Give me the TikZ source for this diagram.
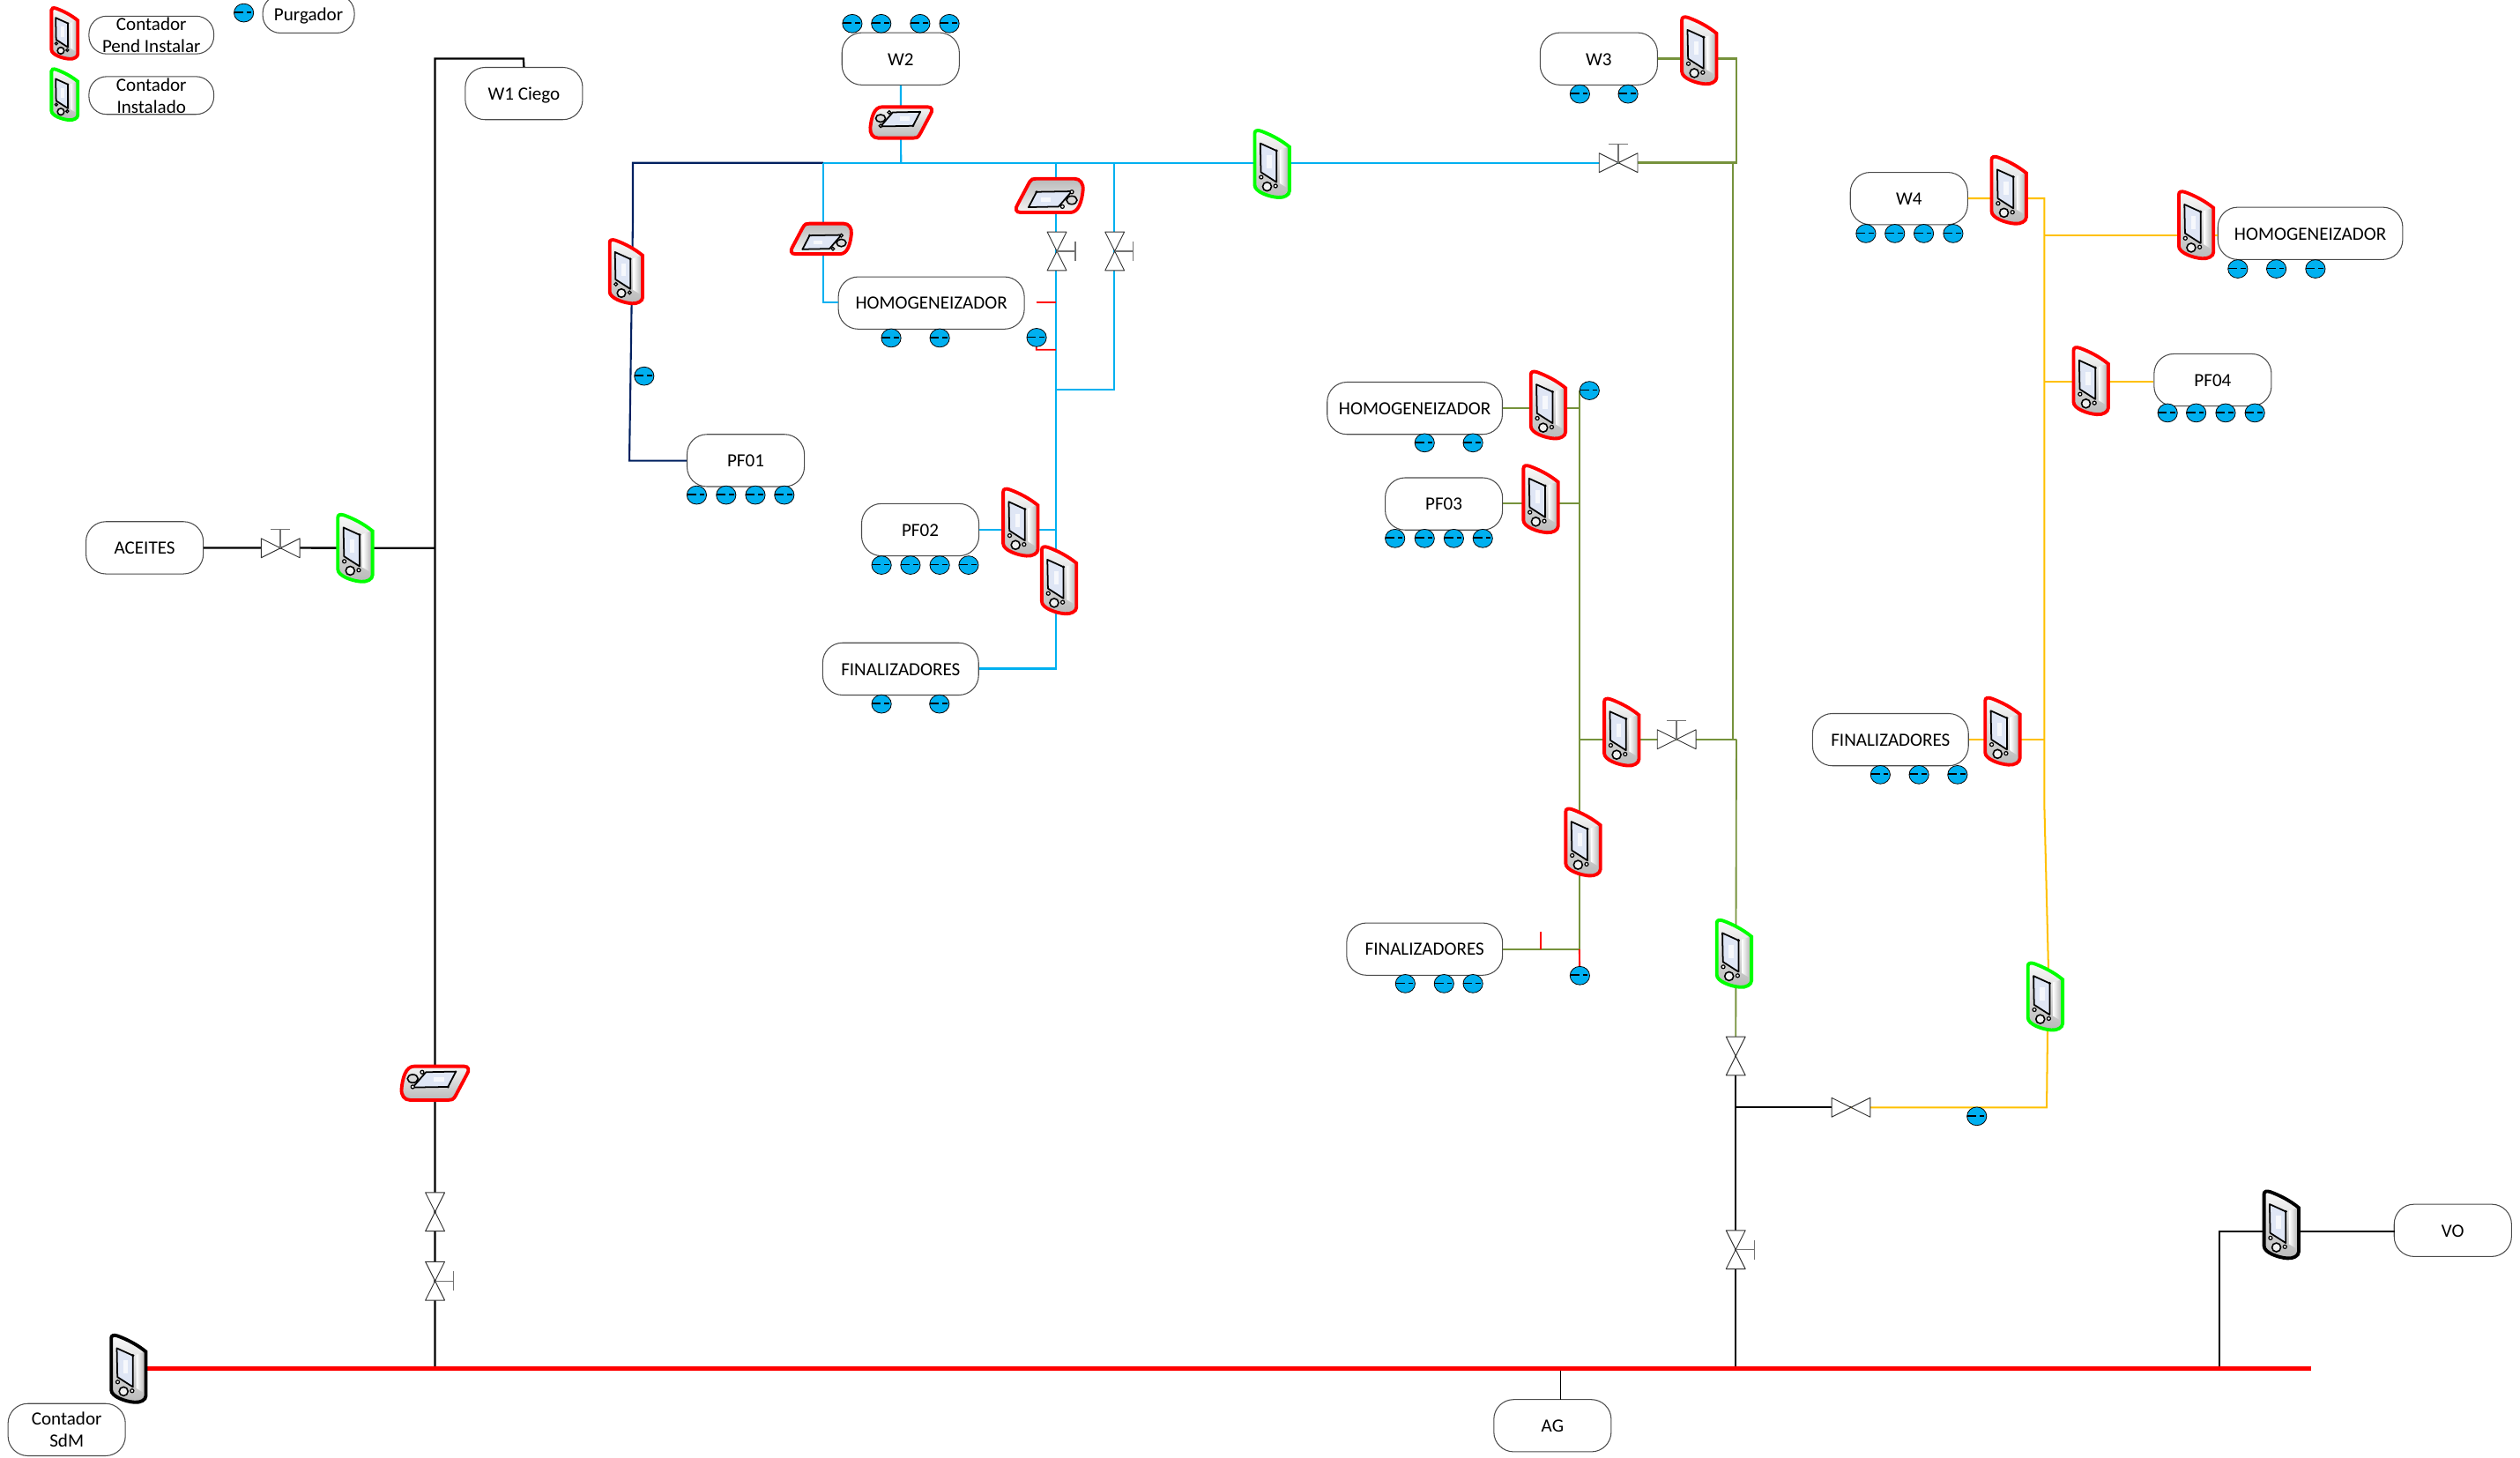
\documentclass[tikz,border=0pt]{standalone}
\usepackage{fontspec}
\setmainfont{Carlito}
\definecolor{pcyan}{HTML}{00B0F0}
\definecolor{pnavy}{HTML}{002060}
\definecolor{polive}{HTML}{76923C}
\definecolor{pyellow}{HTML}{FFC000}
\definecolor{pgreen}{HTML}{00FF00}
\definecolor{ppurg}{HTML}{00B0F0}
\definecolor{scr}{HTML}{DFE6F5}
\def\uu{0.036467cm}
\newcommand{\twol}[2]{\raisebox{-0.2pt}[0pt][0pt]{\begin{tabular}[c]{@{}c@{}}#1\\#2\end{tabular}}}
% vertical meter: coordinate name, outline colour, scale
\newcommand{\vmeter}[3]{%
\begin{scope}[shift={(#1)},scale=0.18282*#3]
\path[top color=gray!4,bottom color=gray!55,middle color=gray!30]
 (-59,-104) .. controls (-59,-114) and (-50,-116) .. (-38,-112) .. controls (-5,-100) and (30,-82) .. (59,-58) -- (59,92) .. controls (59,106) and (40,116) .. (20,114) .. controls (-10,112) and (-59,95) .. (-59,72) -- cycle;
\path[left color=white,right color=gray!60] (26,-48) -- (56,-58) -- (56,84) -- (26,66) -- cycle;
\draw[black,line width=1pt,fill=scr,line join=round] (-40,-70) -- (15,-45) -- (15,62) -- (-38,28) -- cycle;
\fill[white,opacity=.75] (-18,-30) rectangle (-2,15);
\fill[black] (15,-45) circle[radius=5];
\draw[black,line width=.7pt,fill=white] (-37,45) circle[radius=6];
\draw[black,line width=.7pt,fill=white] (12,75) circle[radius=6];
\draw[black,line width=.9pt,fill=gray!12] (-17,77) circle[radius=15];
\draw[#2,line width=2.2pt]
 (-59,-104) .. controls (-59,-114) and (-50,-116) .. (-38,-112) .. controls (-5,-100) and (30,-82) .. (59,-58) -- (59,92) .. controls (59,106) and (40,116) .. (20,114) .. controls (-10,112) and (-59,95) .. (-59,72) -- cycle;
\end{scope}}
% horizontal meter: coordinate name, outline colour, rotation, scale
\newcommand{\hmeter}[4]{%
\begin{scope}[shift={(#1)},scale=0.18282*#4,rotate=#3]
\path[top color=gray!8,bottom color=gray!55,shading angle=#3]
 (-114,18) .. controls (-110,-20) and (-100,-58) .. (-70,-58) -- (98,-58) .. controls (115,-58) and (118,-45) .. (108,-30) -- (72,38) .. controls (62,58) and (55,57) .. (45,57) -- (-85,57) .. controls (-105,57) and (-116,40) .. (-114,18) -- cycle;
\draw[black,line width=1pt,fill=scr,line join=round] (-31,-38) -- (71,-40) -- (44,12) -- (-76,14) -- cycle;
\fill[white,opacity=.75] (-5,-22) rectangle (30,-6);
\fill[black] (44,12) circle[radius=5];
\fill[black] (71,-40) circle[radius=3];
\draw[black,line width=.9pt,fill=gray!30] (-76,-16) ellipse[x radius=18,y radius=14];
\draw[black,line width=.7pt,fill=white] (-44,-38) circle[radius=6];
\draw[black,line width=.7pt,fill=white] (-76,12) circle[radius=6];
\draw[#2,line width=2.2pt]
 (-114,18) .. controls (-110,-20) and (-100,-58) .. (-70,-58) -- (98,-58) .. controls (115,-58) and (118,-45) .. (108,-30) -- (72,38) .. controls (62,58) and (55,57) .. (45,57) -- (-85,57) .. controls (-105,57) and (-116,40) .. (-114,18) -- cycle;
\end{scope}}
% valve: coordinate name, rotation, handle 0/1
\newcommand{\valve}[3]{%
\begin{scope}[shift={(#1)},rotate=#2]
\draw[valveline,fill=white] (-6,-12) -- (6,-12) -- (-6,12) -- (6,12) -- cycle;
\ifnum#3=1
\draw[valveline,draw=gray!90!black,line width=.8pt] (0,0) -- (11.5,0) (11.5,-6) -- (11.5,6);
\fi
\end{scope}}
% purger: name, position
\newcommand{\purg}[2]{%
\node[coordinate] (#1) at (#2) {};
\begin{scope}[shift={(#1)}]
\draw[black,line width=.45pt,fill=ppurg] (0,0) ellipse[x radius=6.1,y radius=5.7];
\draw[black,line width=.95pt] (-6,-.3) -- (-.4,-.3) (1.8,-.3) -- (4.8,-.3);
\end{scope}}
\tikzset{
  box/.style={draw=black!70,line width=.6pt,fill=white,rounded corners=.45cm,inner sep=0pt,
    font=\fontsize{12}{14.2}\selectfont,text=black,text height=8.3pt,text depth=0pt,
    minimum height=32.5*\uu,minimum width=#1*\uu},
  box/.default=73,
  lbox/.style={box=#1,minimum height=23.5*\uu,rounded corners=.4cm},
  lbox/.default=77.7,
  valveline/.style={draw=black!80,line width=.55pt,line join=round},
  blackp/.style={draw=black,line width=1.3pt,line join=miter},
  blackt/.style={draw=black,line width=1.05pt,line join=miter},
  cyanp/.style={draw=pcyan,line width=1.25pt,line join=miter},
  navyp/.style={draw=pnavy,line width=1.2pt,line join=miter},
  olivep/.style={draw=polive,line width=1.4pt,line join=miter},
  olivet/.style={draw=polive,line width=1.05pt,line join=miter},
  yellowp/.style={draw=pyellow,line width=1.15pt,line join=miter},
  redbus/.style={draw=red,line width=2.6pt},
  redt/.style={draw=red,line width=1.05pt}
}
\begin{document}
\begin{tikzpicture}[x=\uu,y=-\uu]
\useasboundingbox (0,0) rectangle (1568,907);
% nodes
\node[lbox] (lpend) at (94.2,21.8) {\twol{Contador}{Pend Instalar}};
\node[lbox] (linst) at (94.2,59.4) {\twol{Contador}{Instalado}};
\node[lbox=57] (lpurg) at (192,8.8) {Purgador};
\node[box] (w1) at (326,58.2) {W1 Ciego};
\node[box] (w2) at (560.4,36.6) {W2};
\node[box] (w3) at (994.8,36.6) {W3};
\node[box] (w4) at (1187.8,123.5) {W4};
\node[box=115.7] (homa) at (579.5,188.5) {HOMOGENEIZADOR};
\node[box=115] (homr) at (1437.5,145.2) {HOMOGENEIZADOR};
\node[box=109] (homm) at (880.3,254) {HOMOGENEIZADOR};
\node[box] (pf1) at (464,286.5) {PF01};
\node[box] (pf2) at (572.6,329.6) {PF02};
\node[box] (pf3) at (898.4,313.5) {PF03};
\node[box] (pf4) at (1376.8,236.4) {PF04};
\node[box] (ace) at (90,340.8) {ACEITES};
\node[box=97] (fina) at (560.4,416.2) {FINALIZADORES};
\node[box=97] (finm) at (886.4,590.5) {FINALIZADORES};
\node[box=97] (finr) at (1176.3,460.2) {FINALIZADORES};
\node[box] (vo) at (1526.2,765.5) {VO};
\node[box] (ag) at (966,887) {AG};
\node[box] (sdm) at (41.5,889.5) {\twol{Contador}{SdM}};
% coordinates: meters
\coordinate (mlr) at (40.2,20.8);
\coordinate (mlg) at (40.2,58.8);
\coordinate (mpf1) at (389.6,169);
\coordinate (mace) at (221,341);
\coordinate (mtop) at (791.5,102);
\coordinate (mw3) at (1057.3,31.4);
\coordinate (mw4) at (1250,118.3);
\coordinate (mhr) at (1366.5,140);
\coordinate (mpf4) at (1301,237);
\coordinate (mpf2) at (635,325);
\coordinate (mfa) at (659,361);
\coordinate (mhm) at (963.3,252);
\coordinate (mpf3) at (958.7,310.5);
\coordinate (mcross) at (1009,455.5);
\coordinate (mfm) at (985,524);
\coordinate (mvert) at (1079,593.3);
\coordinate (mfr) at (1246,455);
\coordinate (myel) at (1272.6,620);
\coordinate (mvo) at (1419.5,762);
\coordinate (msdm) at (80,851.6);
\coordinate (hw2) at (560.7,76.3);
\coordinate (hw1) at (270.7,674);
\coordinate (hv) at (653,121.6);
\coordinate (hha) at (511,148.5);
% coordinates: valves
\coordinate (vace) at (174.5,341);
\coordinate (vtop) at (1007,101.3);
\coordinate (vcross) at (1043.2,460);
\coordinate (vyel) at (1151.7,689);
\coordinate (vm1) at (657.6,156.3);
\coordinate (vm2) at (693.6,156.3);
\coordinate (vb1) at (270.7,754);
\coordinate (vb2) at (270.7,797);
\coordinate (vr1) at (1080,657);
\coordinate (vr2) at (1080,777.5);
% coordinates: junctions
\coordinate (jw1) at (270.7,36.5);
\coordinate (jw1t) at (325.7,36.5);
\coordinate (jace) at (270.7,341);
\coordinate (jbus1) at (270.7,851.6);
\coordinate (jbus2) at (971,851.6);
\coordinate (jag) at (971,871);
\coordinate (jbus3) at (1080,851.6);
\coordinate (jbus4) at (1381,851.6);
\coordinate (jvo) at (1381,766);
\coordinate (jvoe) at (1490,766);
\coordinate (busE) at (1438,851.6);
\coordinate (jblk) at (1080,689);
\coordinate (n1) at (512.3,101.3);
\coordinate (n2) at (393.8,101.3);
\coordinate (n2b) at (393.8,135);
\coordinate (n3) at (391.6,286.6);
\coordinate (c1) at (512.3,188);
\coordinate (c2) at (560.6,101.3);
\coordinate (c3) at (657,101.3);
\coordinate (c4) at (693.3,101.3);
\coordinate (c5) at (657,416);
\coordinate (c6) at (693.3,242.6);
\coordinate (c7) at (657,242.6);
\coordinate (c8) at (657,329.4);
\coordinate (g1) at (1080.4,36.6);
\coordinate (g2) at (1080.4,101.3);
\coordinate (g3) at (1078.3,101.3);
\coordinate (g4) at (1078.3,460);
\coordinate (g5) at (1080.4,460);
\coordinate (g6) at (982.7,460);
\coordinate (g7) at (982.7,243);
\coordinate (g8) at (982.7,590.6);
\coordinate (g9) at (982.7,253.8);
\coordinate (g10) at (982.7,313);
\coordinate (y1) at (1272,123.4);
\coordinate (y2) at (1272,500);
\coordinate (y3) at (1274.5,600);
\coordinate (y4) at (1273.5,689);
\coordinate (y5) at (1272,146.3);
\coordinate (y6) at (1272,237.3);
\coordinate (y7) at (1272,460);
\coordinate (pl1) at (645,210);
\coordinate (pl2) at (983,607);
\coordinate (pl3) at (989,243);
\coordinate (r1) at (644.8,188);
\coordinate (r2) at (657,188);
\coordinate (r3) at (644.8,217.6);
\coordinate (r4) at (657,217.6);
\coordinate (r5) at (958.7,579.5);
\coordinate (r6) at (958.7,590.6);
% pipes: black
\draw[blackp] (w1.north) -- (jw1t) -- (jw1) -- (jbus1);
\draw[blackp] (ace) -- (jace);
\draw[blackt] (jbus2) -- (jag);
\draw[blackt] (jbus3) -- (vr1);
\draw[blackp] (jblk) -- (vyel);
\draw[blackt] (jbus4) -- (jvo) -- (jvoe);
% pipes: navy
\draw[navyp] (n1) -- (n2) -- (n2b) -- (n3) -- (pf1.west |- n3);
% pipes: cyan
\draw[cyanp] (n1) -- (vtop);
\draw[cyanp] (n1) -- (c1) -- (homa.west |- c1);
\draw[cyanp] (w2) -- (c2);
\draw[cyanp] (c3) -- (c5) -- (fina.east |- c5);
\draw[cyanp] (c4) -- (c6) -- (c7);
\draw[cyanp] (pf2.east |- c8) -- (c8);
% pipes: olive
\draw[olivep] (w3.east |- g1) -- (g1) -- (g2) -- (vtop);
\draw[olivet] (g3) -- (g4);
\draw[olivep] (g6) -- (g5);
\draw[olivet] (g5) -- (vr1);
\draw[olivep] (g7) -- (g8);
\draw[olivet] (homm.east |- g9) -- (g9);
\draw[olivet] (pf3.east |- g10) -- (g10);
\draw[olivep] (finm.east |- g8) -- (g8);
% pipes: yellow
\draw[yellowp] (w4.east |- y1) -- (y1) -- (y2) -- (y3) -- (y4) -- (vyel);
\draw[yellowp] (y5) -- (homr.west |- y5);
\draw[yellowp] (y6) -- (pf4.west |- y6);
\draw[yellowp] (finr.east |- y7) -- (y7);
% pipes: thin red
\draw[redt] (r1) -- (r2);
\draw[redt] (pl1) -- (r3) -- (r4);
\draw[redt] (r5) -- (r6);
\draw[redt] (g8) -- (pl2);
% main bus
\draw[redbus] (msdm) -- (busE);
% valves
\valve{vace}{90}{1}
\valve{vtop}{90}{1}
\valve{vcross}{90}{1}
\valve{vyel}{90}{0}
\valve{vm1}{0}{1}
\valve{vm2}{0}{1}
\valve{vb1}{0}{0}
\valve{vb2}{0}{1}
\valve{vr1}{0}{0}
\valve{vr2}{0}{1}
% meters
\vmeter{mlr}{red}{.76}
\vmeter{mlg}{pgreen}{.76}
\vmeter{mpf1}{red}{.95}
\vmeter{mace}{pgreen}{1}
\vmeter{mtop}{pgreen}{1}
\vmeter{mw3}{red}{1}
\vmeter{mw4}{red}{1}
\vmeter{mhr}{red}{1}
\vmeter{mpf4}{red}{1}
\vmeter{mpf2}{red}{1}
\vmeter{mfa}{red}{1}
\vmeter{mhm}{red}{1}
\vmeter{mpf3}{red}{1}
\vmeter{mcross}{red}{1}
\vmeter{mfm}{red}{1}
\vmeter{mvert}{pgreen}{1}
\vmeter{mfr}{red}{1}
\vmeter{myel}{pgreen}{1}
\vmeter{mvo}{black}{1}
\vmeter{msdm}{black}{1}
\hmeter{hw2}{red}{0}{.92}
\hmeter{hw1}{red}{0}{1}
\hmeter{hv}{red}{180}{1}
\hmeter{hha}{red}{180}{.9}
% purgers
\purg{pleg}{151.7,8}
\purg{a1}{530.3,14.7}\purg{a2}{548.3,14.7}\purg{a3}{572.5,14.7}\purg{a4}{590.7,14.7}
\purg{b1}{983,58.5}\purg{b2}{1013,58.5}
\purg{d1}{1161,145.3}\purg{d2}{1179,145.3}\purg{d3}{1197,145.3}\purg{d4}{1215.3,145.3}
\purg{e1}{1392.4,167.3}\purg{e2}{1416.4,167.3}\purg{e3}{1440.7,167.3}
\purg{f1}{1348.7,256.9}\purg{f2}{1366.5,256.9}\purg{f3}{1384.8,256.9}\purg{f4}{1403,256.9}
\purg{h1}{554.5,210.3}\purg{h2}{584.7,210.3}\purg{h3}{pl1}
\purg{i1}{400.8,234}
\purg{k1}{433.5,308}\purg{k2}{451.8,308}\purg{k3}{470,308}\purg{k4}{488,308}
\purg{l1}{548.5,351.6}\purg{l2}{566.5,351.6}\purg{l3}{584.7,351.6}\purg{l4}{602.7,351.6}
\purg{o1}{548.5,438}\purg{o2}{584.5,438}
\purg{q1}{886.4,275.5}\purg{q2}{916.5,275.5}\purg{q3}{pl3}
\purg{s1}{868,335}\purg{s2}{886.4,335}\purg{s3}{904.6,335}\purg{s4}{922.6,335}
\purg{t1}{874.4,612}\purg{t2}{898.5,612}\purg{t3}{916.5,612}\purg{t4}{pl2}
\purg{u1}{1170,482}\purg{u2}{1194,482}\purg{u3}{1218,482}
\purg{v1}{1230,694.5}
\end{tikzpicture}
\end{document}
